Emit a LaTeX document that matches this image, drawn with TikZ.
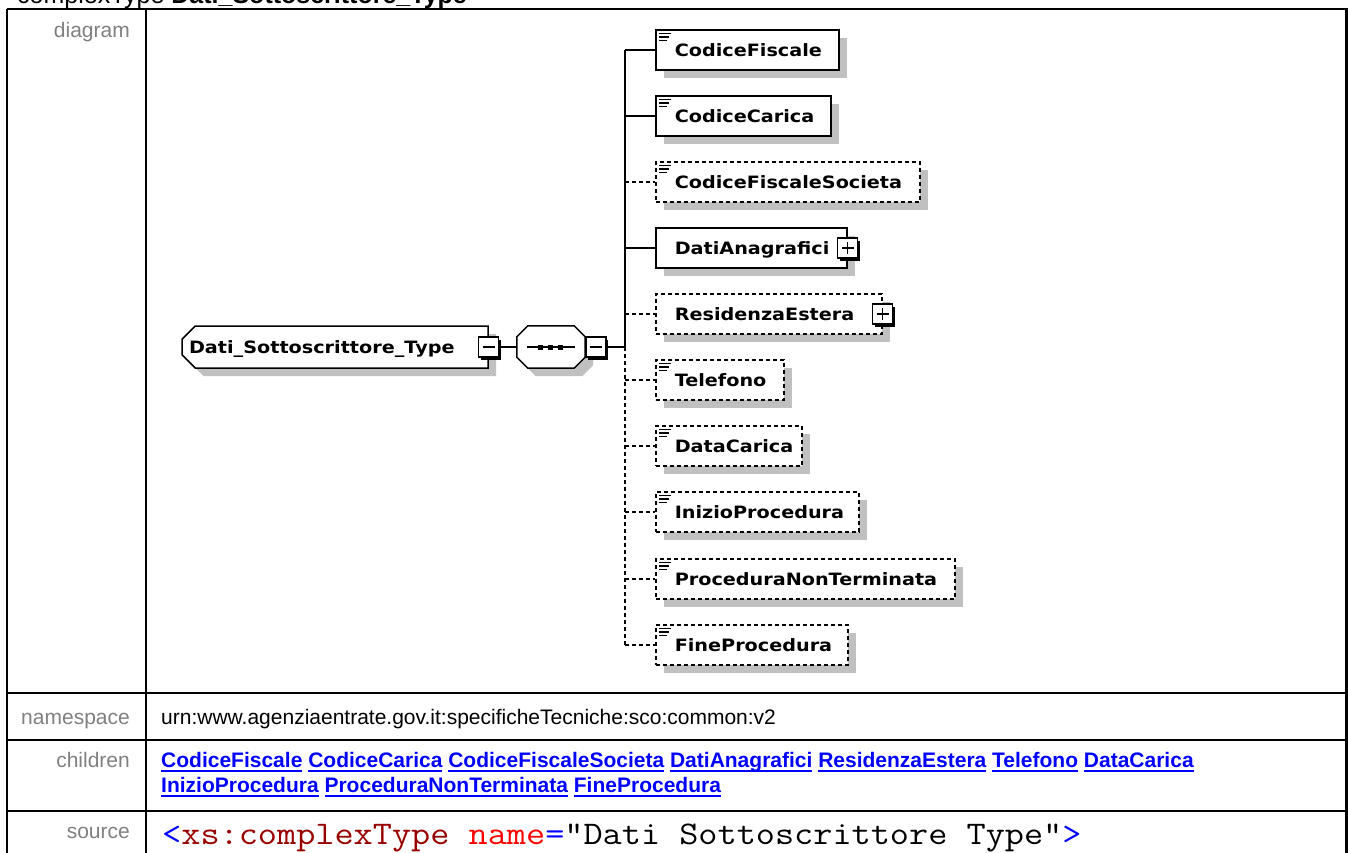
\documentclass[tikz,border=0pt]{standalone}
\usepackage{fontspec}
\usepackage{graphicx}
\setmainfont{Liberation Sans}
\newfontfamily\dgfont{DejaVu Sans}
\usetikzlibrary{shapes.misc,shadows}
\definecolor{lblgray}{HTML}{808080}
\definecolor{shgray}{HTML}{C0C0C0}
\definecolor{lnkblue}{HTML}{0000FF}
\definecolor{srcdark}{HTML}{990000}
\definecolor{srcred}{HTML}{FF0000}
\newcommand\dgtext[1]{\scalebox{1.13}[1]{\dgfont\bfseries\fontsize{17}{20}\selectfont #1}}
\newcommand\elt[2]{\makebox[#1pt][l]{\hspace{19pt}\dgtext{#2}}}
\newcommand\lnk[1]{\setbox0\hbox{#1}\rlap{\rule[-5pt]{\wd0}{1.6pt}}\box0\relax}
\tikzset{
  conn/.style={line width=1.4pt},
  opt/.style={dash pattern=on 4pt off 3pt},
  dshadow/.style={general shadow={fill=shgray, shadow xshift=8pt, shadow yshift=-8pt}},
  elem/.style={draw, line width=1.5pt, fill=white, anchor=west, inner sep=0pt,
    minimum height=40pt, text height=12.5pt, text depth=0pt, dshadow},
  leaf/.style={path picture={
    \draw[solid, line width=1.6pt]
      ([shift={(3pt,-3.5pt)}]path picture bounding box.north west) -- ++(12pt,0pt)
      ([shift={(3pt,-7pt)}]path picture bounding box.north west) -- ++(10pt,0pt)
      ([shift={(3pt,-10.5pt)}]path picture bounding box.north west) -- ++(8pt,0pt);}},
  pmbox/.style={draw, line width=1.4pt, fill=white, minimum size=20pt, inner sep=0pt,
    general shadow={fill=black, shadow xshift=2.5pt, shadow yshift=-2.5pt}},
  minus/.style={pmbox, path picture={\draw[solid, line width=1.4pt]
      ([xshift=4pt]path picture bounding box.west) -- ([xshift=-4pt]path picture bounding box.east);}},
  plus/.style={pmbox, path picture={\draw[solid, line width=1.4pt]
      ([xshift=4pt]path picture bounding box.west) -- ([xshift=-4pt]path picture bounding box.east)
      ([yshift=-4pt]path picture bounding box.north) -- ([yshift=4pt]path picture bounding box.south);}},
  rootbox/.style={chamfered rectangle, chamfered rectangle xsep=7pt, chamfered rectangle ysep=7pt,
    chamfered rectangle corners={north west,south west}, draw, line width=1.5pt, fill=white,
    inner sep=0pt, minimum width=306pt, minimum height=42pt, text height=12.5pt, text depth=0pt,
    dshadow},
  seqbox/.style={inner sep=0pt, minimum width=68pt, minimum height=42pt},
  seqline/.style={draw, line width=1.5pt, fill=white, dshadow},
  lbl/.style={anchor=base east, text=lblgray, font=\fontsize{21}{25}\selectfont, inner sep=0pt},
  cell/.style={anchor=base west, font=\fontsize{21}{25}\selectfont, inner sep=0pt},
  grid/.style={line width=2pt},
}
\begin{document}
\begin{tikzpicture}[x=1pt,y=-1pt]
\useasboundingbox (0,0) rectangle (1348,853);
\clip (0,0) rectangle (1348,853);
\fill[white] (0,0) rectangle (1348,853);
% table
\node[anchor=base west, inner sep=0pt, font=\fontsize{25}{30}\selectfont] (title) at (17,4)
  {complexType \textbf{Dati\_Sottoscrittore\_Type}};
\draw[grid] (7,9) -- (1346,9);
\draw[grid] (7,9) -- (7,870);
\draw[grid] (146,9) -- (146,870);
\draw[line width=3pt] (1346,8) -- (1346,870);
\draw[grid] (7,693) -- (1346,693);
\draw[grid] (7,740) -- (1346,740);
\draw[grid] (7,811) -- (1346,811);
\node[lbl] (ldiag) at (130,38) {diagram};
\node[lbl] (lns) at (130,724) {namespace};
\node[lbl] (lch) at (130,767) {children};
\node[lbl] (lsrc) at (130,838) {source};
\node[cell] (ns) at (161,724) {urn:www.agenziaentrate.gov.it:specificheTecniche:sco:common:v2};
\node[cell, text=lnkblue, font=\fontsize{21}{25}\selectfont\bfseries] (ch1) at (161,767)
  {\lnk{CodiceFiscale} \lnk{CodiceCarica} \lnk{CodiceFiscaleSocieta} \lnk{DatiAnagrafici} \lnk{ResidenzaEstera} \lnk{Telefono} \lnk{DataCarica}};
\node[cell, text=lnkblue, font=\fontsize{21}{25}\selectfont\bfseries] (ch2) at (161,792)
  {\lnk{InizioProcedura} \lnk{ProceduraNonTerminata} \lnk{FineProcedura}};
\node[anchor=base west, inner sep=0pt, font=\ttfamily\fontsize{33}{36}\selectfont] (src) at (162,844)
  {\scalebox{1.127}[1]{\textcolor{lnkblue}{<}\textcolor{srcdark}{xs:complexType} \textcolor{srcred}{name}\textcolor{lnkblue}{=}"Dati Sottoscrittore Type"\textcolor{lnkblue}{>}}};
% diagram
\node[rootbox] (root) at (335,347) {\makebox[292pt][l]{\dgtext{Dati\_Sottoscrittore\_Type}}};
\node[minus] (rootm) at (root.east) {};
\node[seqbox] (seq) at (551,347) {};
\draw[seqline] ([xshift=11pt]seq.north west) -- ([xshift=-11pt]seq.north east)
  -- ([yshift=-11pt]seq.north east) -- ([yshift=11pt]seq.south east)
  -- ([xshift=-11pt]seq.south east) -- ([xshift=11pt]seq.south west)
  -- ([yshift=11pt]seq.south west) -- ([yshift=-11pt]seq.north west) -- cycle;
\node[minus, anchor=west] (seqm) at (seq.east) {};
\draw[line width=2pt] ([xshift=-24pt]seq.center) -- ([xshift=24pt]seq.center);
\foreach \d in {-11,-1,9}
  \fill ([xshift=\d pt]seq.center) +(-2.5pt,-2.5pt) rectangle +(2.5pt,2.5pt);
\coordinate (bus) at (625,347);
\node[elem,leaf] (cf) at (655,50) {\elt{183}{CodiceFiscale}};
\node[elem,leaf] (cc) at (655,116) {\elt{175}{CodiceCarica}};
\node[elem,opt,leaf] (cfs) at (655,182) {\elt{264}{CodiceFiscaleSocieta}};
\node[elem] (da) at (655,248) {\elt{191}{DatiAnagrafici}};
\node[plus] (dap) at (da.east) {};
\node[elem,opt] (re) at (655,314) {\elt{226}{ResidenzaEstera}};
\node[plus] (rep) at (re.east) {};
\node[elem,opt,leaf] (tel) at (655,380) {\elt{128}{Telefono}};
\node[elem,opt,leaf] (dc) at (655,446) {\elt{146}{DataCarica}};
\node[elem,opt,leaf] (ip) at (655,512) {\elt{203}{InizioProcedura}};
\node[elem,opt,leaf] (pnt) at (655,579) {\elt{299}{ProceduraNonTerminata}};
\node[elem,opt,leaf] (fp) at (655,645) {\elt{192}{FineProcedura}};
\draw[conn] (rootm.east) -- (seq.west);
\draw[conn] (seqm.east) -- (bus);
\draw[conn] (bus) -- (bus |- cf.west);
\draw[conn,opt] (bus) -- (bus |- fp.west);
\foreach \c in {cf,cc,da}
  \draw[conn] (bus |- \c.west) -- (\c.west);
\foreach \c in {cfs,re,tel,dc,ip,pnt,fp}
  \draw[conn,opt] (bus |- \c.west) -- (\c.west);
\end{tikzpicture}
\end{document}
